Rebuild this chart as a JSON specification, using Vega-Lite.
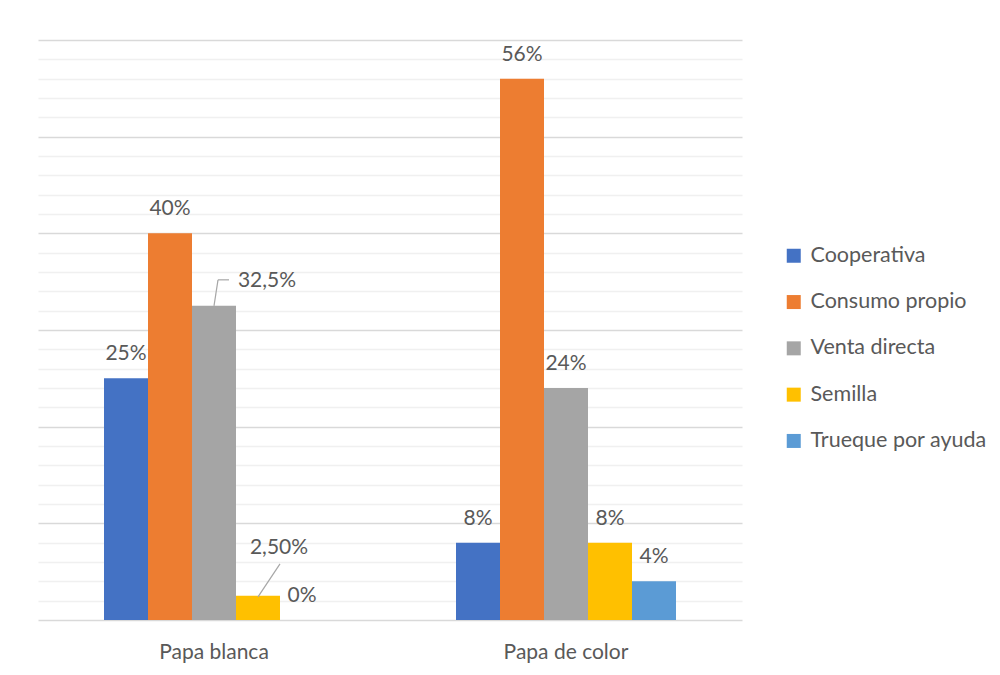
{
  "$schema": "https://vega.github.io/schema/vega-lite/v6.json",
  "width": 704,
  "height": 580,
  "autosize": "none",
  "padding": {"left": 38, "top": 40, "right": 258, "bottom": 55},
  "background": "white",
  "config": {
    "font": "Lato",
    "view": {"stroke": null},
    "text": {"font": "Lato", "fontSize": 21, "fill": "#595959"}
  },
  "data": {
    "values": [
      {"cat": "Papa blanca", "series": "Cooperativa", "value": 25, "label": "25%"},
      {"cat": "Papa blanca", "series": "Consumo propio", "value": 40, "label": "40%"},
      {"cat": "Papa blanca", "series": "Venta directa", "value": 32.5, "label": "32,5%"},
      {"cat": "Papa blanca", "series": "Semilla", "value": 2.5, "label": "2,50%"},
      {"cat": "Papa blanca", "series": "Trueque por ayuda", "value": 0, "label": "0%"},
      {"cat": "Papa de color", "series": "Cooperativa", "value": 8, "label": "8%"},
      {"cat": "Papa de color", "series": "Consumo propio", "value": 56, "label": "56%"},
      {"cat": "Papa de color", "series": "Venta directa", "value": 24, "label": "24%"},
      {"cat": "Papa de color", "series": "Semilla", "value": 8, "label": "8%"},
      {"cat": "Papa de color", "series": "Trueque por ayuda", "value": 4, "label": "4%"}
    ]
  },
  "encoding": {
    "x": {
      "field": "cat",
      "type": "nominal",
      "sort": null,
      "title": null,
      "scale": {"paddingInner": 0.375, "paddingOuter": 0.1875},
      "axis": {
        "labelAngle": 0,
        "ticks": false,
        "domain": false,
        "labelFont": "Lato",
        "labelFontSize": 21,
        "labelColor": "#595959",
        "labelPadding": 21,
        "labelBaseline": "top"
      }
    },
    "y": {
      "field": "value",
      "type": "quantitative",
      "title": null,
      "scale": {"domain": [0, 60], "nice": false},
      "axis": {
        "values": [0, 2, 4, 6, 8, 10, 12, 14, 16, 18, 20, 22, 24, 26, 28, 30, 32, 34, 36, 38, 40, 42, 44, 46, 48, 50, 52, 54, 56, 58, 60],
        "labels": false,
        "ticks": false,
        "domain": false,
        "grid": true,
        "gridColor": {"condition": {"test": "datum.value % 10 === 0", "value": "#d9d9d9"}, "value": "#f0f0f0"},
        "gridWidth": 1.5
      }
    }
  },
  "layer": [
    {
      "mark": {"type": "bar"},
      "encoding": {
        "xOffset": {"field": "series", "type": "nominal", "sort": null, "scale": {"paddingInner": 0, "paddingOuter": 0}},
        "color": {
          "field": "series",
          "type": "nominal",
          "sort": null,
          "title": null,
          "scale": {
            "domain": ["Cooperativa", "Consumo propio", "Venta directa", "Semilla", "Trueque por ayuda"],
            "range": ["#4472c4", "#ed7d31", "#a5a5a5", "#ffc000", "#5b9bd5"]
          },
          "legend": {
            "orient": "none",
            "legendX": 745,
            "legendY": 205,
            "padding": 0,
            "symbolType": "square",
            "symbolSize": 196,
            "symbolStrokeWidth": 0,
            "labelFont": "Lato",
            "labelFontSize": 21.5,
            "labelColor": "#595959",
            "labelOffset": 6,
            "rowPadding": 23.3,
            "labelLimit": 300
          }
        }
      }
    },
    {
      "transform": [{"filter": "datum.label !== '32,5%' && datum.label !== '2,50%'"}],
      "mark": {"type": "text", "baseline": "alphabetic", "dy": -18},
      "encoding": {
        "xOffset": {"field": "series", "type": "nominal", "sort": null},
        "text": {"field": "label"}
      }
    },
    {
      "transform": [{"filter": "datum.label === '32,5%'"}],
      "mark": {"type": "text", "baseline": "alphabetic", "dx": 53, "dy": -19},
      "encoding": {
        "xOffset": {"field": "series", "type": "nominal", "sort": null},
        "text": {"field": "label"}
      }
    },
    {
      "transform": [{"filter": "datum.label === '2,50%'"}],
      "mark": {"type": "text", "baseline": "alphabetic", "dx": 21, "dy": -42},
      "encoding": {
        "xOffset": {"field": "series", "type": "nominal", "sort": null},
        "text": {"field": "label"}
      }
    },
    {
      "transform": [{"filter": "datum.label === '32,5%'"}],
      "mark": {"type": "rule", "color": "#a6a6a6", "strokeWidth": 1.2, "xOffset": 0, "x2Offset": 4, "yOffset": 0, "y2Offset": -26},
      "encoding": {
        "x": {"field": "cat", "type": "nominal", "sort": null},
        "x2": {"field": "cat"},
        "y2": {"field": "value"}
      }
    },
    {
      "transform": [{"filter": "datum.label === '32,5%'"}],
      "mark": {"type": "rule", "color": "#a6a6a6", "strokeWidth": 1.2, "xOffset": 4, "x2Offset": 15, "yOffset": -26, "y2Offset": -26},
      "encoding": {
        "x": {"field": "cat", "type": "nominal", "sort": null},
        "x2": {"field": "cat"},
        "y2": {"field": "value"}
      }
    },
    {
      "transform": [{"filter": "datum.label === '2,50%'"}],
      "mark": {"type": "rule", "color": "#a6a6a6", "strokeWidth": 1.2, "xOffset": 44, "x2Offset": 66, "yOffset": 1, "y2Offset": -32},
      "encoding": {
        "x": {"field": "cat", "type": "nominal", "sort": null},
        "x2": {"field": "cat"},
        "y2": {"field": "value"}
      }
    }
  ]
}
